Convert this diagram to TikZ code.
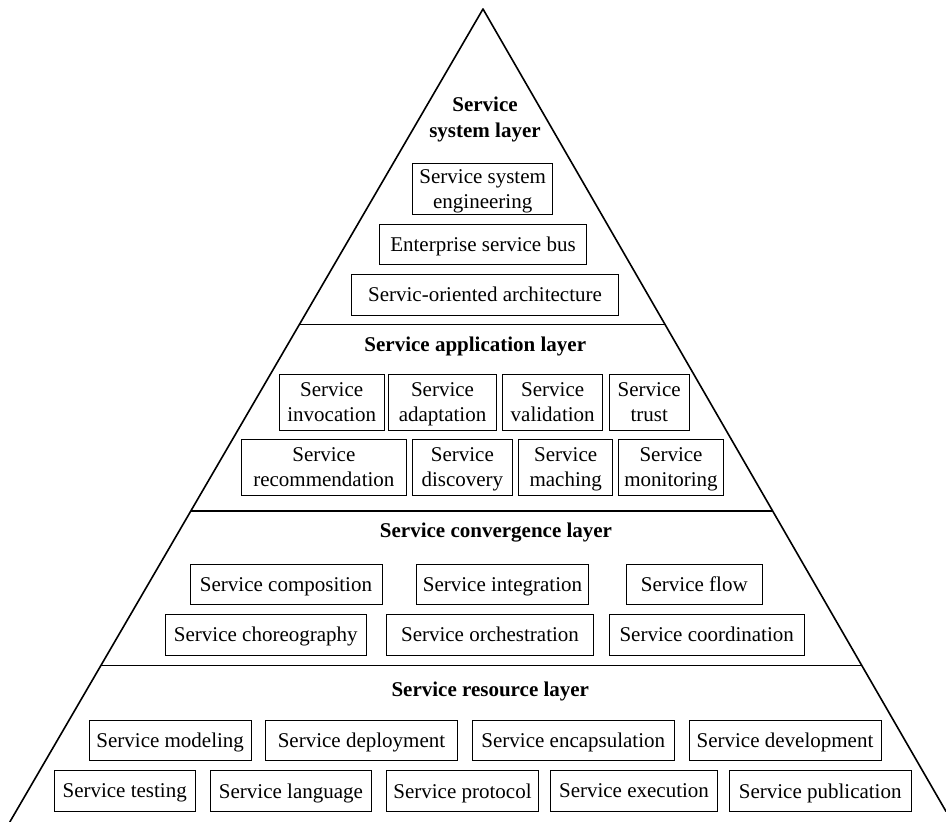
\documentclass[tikz,border=0pt]{standalone}
\usepackage{fontspec}
\setmainfont{Liberation Serif}
\tikzset{
  txt/.style={font=\fontsize{21}{25.5}\selectfont, inner sep=0pt, align=center},
  title/.style={txt, font=\fontsize{21}{25.5}\selectfont\bfseries},
  box/.style 2 args={txt, draw=black, line width=0.9pt, text depth=0pt,
    minimum width=#1pt, minimum height=#2pt},
  edge/.style={draw=black, line width=1.6pt, line cap=round, line join=round},
  divider/.style={draw=black, line width=1.8pt}
}
\begin{document}
\begin{tikzpicture}[x=1pt, y=-1pt]
\useasboundingbox (0,0) rectangle (946,822);
\fill[white] (0,0) rectangle (946,822);

% pyramid outline (sides run off the lower edge)
\coordinate (apex) at (483,9);
\coordinate (lfoot) at (9.8,822);
\coordinate (rfoot) at (946,811.4);
\draw[edge] (lfoot) -- (apex) -- (rfoot);

% layer dividers
\coordinate (d1l) at (299.4,324.5);  \coordinate (d1r) at (665.0,324.5);
\coordinate (d2l) at (190.8,511);    \coordinate (d2r) at (771.5,511);
\coordinate (d3l) at (100.9,665.5);  \coordinate (d3r) at (862.0,665.5);
\draw[divider] (d1l) -- (d1r);
\draw[divider] (d2l) -- (d2r);
\draw[divider] (d3l) -- (d3r);

% service system layer
\node[title] (tsys) at (485,119.6) {Service\\system layer};
\node[box={140}{51}] (sse) at (482.7,188.8) {Service system\\engineering};
\node[box={207.4}{40.3}] (esb) at (483,244.2) {Enterprise service bus};
\node[box={266.6}{40.7}] (soa) at (485,294.7) {Servic-oriented architecture};

% service application layer
\node[title, anchor=base] (tapp) at (475.3,351.7) {Service application layer};
\node[box={105.3}{56}] (inv) at (331.7,402.2) {Service\\invocation};
\node[box={108.4}{56}] (adp) at (442.5,402.2) {Service\\adaptation};
\node[box={100}{56}] (val) at (552.7,402.2) {Service\\validation};
\node[box={80.3}{56}] (tru) at (649.2,402.2) {Service\\trust};
\node[box={165.7}{55.7}] (rec) at (323.9,467.2) {Service\\recommendation};
\node[box={100.7}{55.7}] (dis) at (462.4,467.2) {Service\\discovery};
\node[box={94}{55.7}] (mat) at (565.7,467.2) {Service\\maching};
\node[box={104.6}{55.7}] (mon) at (671,467.2) {Service\\monitoring};

% service convergence layer
\node[title, anchor=base] (tcon) at (496,537.3) {Service convergence layer};
\node[box={192}{40}] (cmp) at (286,584.3) {Service composition};
\node[box={171.6}{40}] (itg) at (502.5,584.3) {Service integration};
\node[box={136.7}{40}] (flw) at (694.3,584.3) {Service flow};
\node[box={201.7}{40.7}] (chr) at (265.8,634.7) {Service choreography};
\node[box={206.6}{40.7}] (orc) at (490,634.7) {Service orchestration};
\node[box={194.7}{40.7}] (crd) at (706.7,634.7) {Service coordination};

% service resource layer
\node[title, anchor=base] (tres) at (490.3,696.7) {Service resource layer};
\node[box={161.7}{40}] (mdl) at (170.2,740.7) {Service modeling};
\node[box={191.6}{40}] (dpl) at (361.5,740.7) {Service deployment};
\node[box={202}{40}] (enc) at (573.3,740.7) {Service encapsulation};
\node[box={192}{40}] (dev) at (785,740.7) {Service development};
\node[box={141.3}{40.3}] (tst) at (124.7,790.8) {Service testing};
\node[box={161.4}{40.3}] (lng) at (291,790.8) {Service language};
\node[box={151.6}{40.3}] (prt) at (462.5,790.8) {Service protocol};
\node[box={166.6}{40.3}] (exe) at (634,790.8) {Service execution};
\node[box={181.7}{40.3}] (pub) at (820.2,790.8) {Service publication};
\end{tikzpicture}
\end{document}
